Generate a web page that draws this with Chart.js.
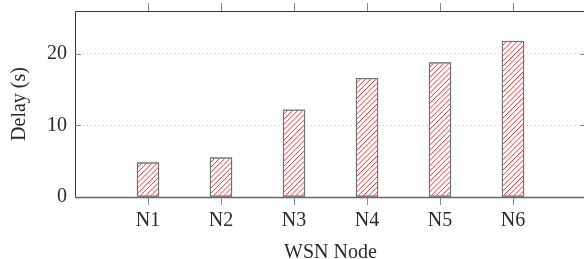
<!DOCTYPE html>
<html>
<head>
<meta charset="utf-8">
<script src="https://cdn.jsdelivr.net/npm/chart.js@4"></script>
<style>
html,body{margin:0;padding:0;background:#fff;overflow:hidden;}
#wrap{width:584px;height:259px;overflow:hidden;position:relative;}
canvas{display:block;}
</style>
</head>
<body>
<div id="wrap"><canvas id="c" width="590" height="259"></canvas></div>
<script>
const categories = ['N1', 'N2', 'N3', 'N4', 'N5', 'N6'];
const delays = [4.8, 5.5, 12.2, 16.6, 18.8, 21.8];
const yTicks = [0, 10, 20];
const xTitle = 'WSN Node';
const yTitle = 'Delay (s)';

const FONT = "'Liberation Serif', 'Times New Roman', serif";
const TXT = '#2a2a2a';

const hatchPlugin = {
  id: 'hatch',
  afterDatasetDraw(chart, args) {
    const ctx = chart.ctx;
    const meta = args.meta;
    meta.data.forEach(bar => {
      const p = bar.getProps(['x', 'y', 'base', 'width'], true);
      const l = p.x - p.width / 2, r = p.x + p.width / 2;
      const t = Math.min(p.y, p.base), b = Math.max(p.y, p.base);
      ctx.save();
      ctx.beginPath();
      ctx.rect(l + 1, t + 1, r - l - 2, b - t - 2);
      ctx.clip();
      ctx.strokeStyle = '#ff2a2a';
      ctx.lineWidth = 1;
      ctx.beginPath();
      const step = 5.2;
      const h = b - t;
      for (let k = l - h; k < r + step; k += step) {
        ctx.moveTo(k, b);
        ctx.lineTo(k + h, t);
      }
      ctx.stroke();
      ctx.restore();
      ctx.save();
      ctx.strokeStyle = '#707070';
      ctx.lineWidth = 1;
      ctx.strokeRect(l + 0.5, t + 0.5, r - l - 1, b - t - 1);
      ctx.restore();
    });
  }
};

const framePlugin = {
  id: 'frame',
  afterDatasetsDraw(chart) {
    const ctx = chart.ctx;
    const a = chart.chartArea;
    const xs = chart.scales.x, ys = chart.scales.y;
    ctx.save();
    ctx.lineWidth = 1;
    ctx.strokeStyle = '#333';
    ctx.beginPath();
    ctx.moveTo(a.left + 0.5, a.bottom);
    ctx.lineTo(a.left + 0.5, a.top + 0.5);
    ctx.lineTo(a.right - 0.5, a.top + 0.5);
    ctx.lineTo(a.right - 0.5, a.bottom);
    ctx.stroke();
    ctx.strokeStyle = '#666';
    ctx.lineWidth = 1.3;
    ctx.beginPath();
    ctx.moveTo(a.left, a.bottom + 0.5);
    ctx.lineTo(a.right, a.bottom + 0.5);
    ctx.stroke();
    ctx.strokeStyle = '#888';
    ctx.lineWidth = 1;
    ctx.beginPath();
    categories.forEach((c, i) => {
      const px = Math.round(xs.getPixelForValue(i + 1)) + 0.5;
      ctx.moveTo(px, a.bottom + 1); ctx.lineTo(px, a.bottom + 8);
      ctx.moveTo(px, a.top); ctx.lineTo(px, a.top - 8);
    });
    yTicks.forEach(v => {
      if (v === 0) return;
      const py = Math.round(ys.getPixelForValue(v)) + 0.5;
      ctx.moveTo(a.left, py); ctx.lineTo(a.left + 6, py);
      ctx.moveTo(a.right, py); ctx.lineTo(a.right - 6, py);
    });
    ctx.stroke();
    ctx.restore();
  }
};

new Chart(document.getElementById('c'), {
  type: 'bar',
  data: {
    datasets: [{
      data: categories.map((c, i) => ({ x: i + 1, y: delays[i] })),
      backgroundColor: '#fff',
      borderColor: '#707070',
      borderWidth: 1,
      borderSkipped: false,
      barThickness: 22
    }]
  },
  options: {
    responsive: false,
    animation: false,
    events: [],
    layout: { padding: { top: 11, right: 4, left: 0, bottom: 0 } },
    plugins: { legend: { display: false }, tooltip: { enabled: false } },
    scales: {
      x: {
        type: 'linear',
        offset: false,
        min: 0, max: categories.length + 1,
        afterBuildTicks(s) { s.ticks = categories.map((c, i) => ({ value: i + 1 })); },
        afterFit(s) { s.height = 62; s.paddingLeft = 0; s.paddingRight = 0; },
        ticks: {
          autoSkip: false, maxRotation: 0,
          callback: v => categories[v - 1] || '',
          font: { family: FONT, size: 20 }, color: TXT, padding: 12
        },
        grid: { display: false, drawTicks: false, offset: false },
        border: { display: false },
        title: { display: true, text: xTitle, font: { family: FONT, size: 20, lineHeight: 1 }, color: TXT, padding: { top: 0, bottom: -4 } }
      },
      y: {
        min: 0, max: 26,
        afterBuildTicks(s) { s.ticks = yTicks.map(v => ({ value: v })); },
        afterFit(s) { s.width = 75; s.paddingTop = 0; s.paddingBottom = 0; },
        ticks: { font: { family: FONT, size: 20 }, color: TXT, padding: 8 },
        grid: {
          drawTicks: false,
          color: ctx => ctx.tick && ctx.tick.value === 0 ? 'rgba(0,0,0,0)' : '#c8c8c8',
          lineWidth: 1
        },
        border: { display: false, dash: [1, 3] },
        title: { display: true, text: yTitle, font: { family: FONT, size: 20, lineHeight: 1 }, color: TXT, padding: { top: 10, bottom: 0 } }
      }
    }
  },
  plugins: [hatchPlugin, framePlugin]
});
</script>
</body>
</html>
